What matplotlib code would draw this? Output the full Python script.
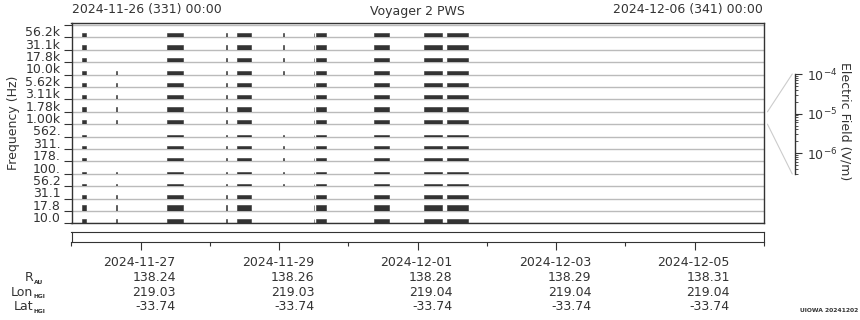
import matplotlib
matplotlib.use('Agg')
import matplotlib.pyplot as plt
import matplotlib.dates as mdates
import matplotlib.transforms as mtransforms
from matplotlib.patches import ConnectionPatch
import pandas as pd

# receiver channels, bottom to top
channels = ['10.0', '17.8', '31.1', '56.2', '100.', '178.', '311.', '562.',
            '1.00k', '1.78k', '3.11k', '5.62k', '10.0k', '17.8k', '31.1k', '56.2k']
# electric field level seen in each channel (V/m)
field = [2.4e-6, 6.0e-6, 1.5e-6, 9.5e-7, 8.0e-7, 1.5e-6, 9.5e-7, 5.8e-7,
         2.4e-6, 2.4e-6, 2.1e-6, 2.1e-6, 1.3e-6, 2.4e-6, 2.4e-6, 2.4e-6]

# data segments
seg_start = ['2024-11-26 03:35', '2024-11-26 15:25', '2024-11-27 09:05', '2024-11-28 05:30',
             '2024-11-28 09:20', '2024-11-29 01:20', '2024-11-29 11:55', '2024-11-29 12:45',
             '2024-11-30 08:50', '2024-12-01 02:10', '2024-12-01 10:05']
seg_end = ['2024-11-26 05:00', '2024-11-26 15:40', '2024-11-27 14:40', '2024-11-28 05:45',
           '2024-11-28 14:10', '2024-11-29 01:35', '2024-11-29 12:10', '2024-11-29 16:05',
           '2024-11-30 13:55', '2024-12-01 08:25', '2024-12-01 17:30']
tick1_ch = ['10.0k', '5.62k', '3.11k', '1.78k', '1.00k', '100.', '56.2', '31.1', '17.8', '10.0']
tick2_ch = ['56.2k', '31.1k', '17.8k', '10.0k', '562.', '311.', '178.', '100.', '56.2']
seg_channels = [channels, tick1_ch, channels, channels, channels, tick2_ch,
                channels, channels, channels, channels, channels]

t0, t1 = '2024-11-26 00:00', '2024-12-06 00:00'
date_ticks = ['2024-11-27', '2024-11-29', '2024-12-01', '2024-12-03', '2024-12-05']
minor_ticks = ['2024-11-26', '2024-11-28', '2024-11-30', '2024-12-02', '2024-12-04', '2024-12-06']
r_au = [138.24, 138.26, 138.28, 138.29, 138.31]
lon_hgi = [219.03, 219.03, 219.04, 219.04, 219.04]
lat_hgi = [-33.74, -33.74, -33.74, -33.74, -33.74]

e_min, e_max = 3e-7, 1e-4
dark = '#333333'
plt.rcParams['font.family'] = 'DejaVu Sans'
plt.rcParams['font.size'] = 9
plt.rcParams['text.color'] = dark
plt.rcParams['axes.edgecolor'] = dark
plt.rcParams['axes.labelcolor'] = dark
plt.rcParams['xtick.color'] = dark
plt.rcParams['ytick.color'] = dark

W, H = 860, 320
fig = plt.figure(figsize=(W / 100, H / 100), dpi=100)


def fx(x):
    return x / W


def fy(y):
    return 1 - y / H


xlim = mdates.date2num(pd.to_datetime([t0, t1]))
n = len(channels)

ax = fig.add_axes([fx(71.5), fy(223.3), 692.5 / W, 200 / H])
ax.set_xlim(xlim)
ax.set_ylim(0, n + 0.14)
for i in range(n + 1):
    ax.axhline(i, color='#bbbbbb', lw=1, zorder=0)
ax.set_xticks([])
ax.set_yticks(range(n + 1))
ax.set_yticklabels([])
ax.set_yticks([i + 0.5 for i in range(n)], minor=True)
ax.set_yticklabels(channels, minor=True)
ax.tick_params(axis='y', which='major', length=6, width=0.8)
ax.tick_params(axis='y', which='minor', length=0, pad=8)
ax.set_ylabel('Frequency (Hz)', labelpad=4)
for s in ax.spines.values():
    s.set_linewidth(1)

strips = []
for i, ch in enumerate(channels):
    sa = ax.inset_axes([0, i, 1, 1], transform=ax.get_yaxis_transform())
    sa.set_xlim(xlim)
    sa.set_yscale('log')
    sa.set_ylim(e_min, e_max)
    sa.axis('off')
    sa.patch.set_visible(False)
    for st, en, chs in zip(seg_start, seg_end, seg_channels):
        if ch not in chs:
            continue
        a, b = mdates.date2num(pd.to_datetime([st, en]))
        sa.bar(a, field[i] - e_min, width=b - a, bottom=e_min, align='edge',
               color=dark, edgecolor=dark, linewidth=0.4)
    strips.append(sa)

# empty lower panel with the time axis
ax2 = fig.add_axes([fx(71.5), fy(241.7), 692.5 / W, 10 / H])
ax2.set_xlim(xlim)
ax2.set_yticks([])
ax2.set_xticks(mdates.date2num(pd.to_datetime(date_ticks)))
ax2.set_xticks(mdates.date2num(pd.to_datetime(minor_ticks)), minor=True)
ax2.set_xticklabels([])
ax2.tick_params(axis='x', which='major', length=5.5, width=0.8)
ax2.tick_params(axis='x', which='minor', length=2.8, width=0.8)

trans = mtransforms.blended_transform_factory(ax2.transData, fig.transFigure)
trans = mtransforms.offset_copy(trans, fig=fig, x=35, y=0, units='dots')
tick_x = mdates.date2num(pd.to_datetime(date_ticks))
for k, x in enumerate(tick_x):
    fig.text(x, fy(262), date_ticks[k], transform=trans, ha='right', va='center')
    fig.text(x, fy(277.5), f'{r_au[k]:.2f}', transform=trans, ha='right', va='center')
    fig.text(x, fy(292.5), f'{lon_hgi[k]:.2f}', transform=trans, ha='right', va='center')
    fig.text(x, fy(307), f'{lat_hgi[k]:.2f}', transform=trans, ha='right', va='center')

for name, sub, y in [('R', 'AU', 277.5), ('Lon', 'HGI', 292.5), ('Lat', 'HGI', 307)]:
    fig.text(fx(33.5), fy(y), name, ha='right', va='center')
    fig.text(fx(33.5), fy(y + 4.5), sub, ha='left', va='center', fontsize=4.3,
             fontweight='bold')

# header
fig.text(fx(72), fy(9), '2024-11-26 (331) 00:00', ha='left', va='center')
fig.text(fx(417.75), fy(11), 'Voyager 2 PWS', ha='center', va='center')
fig.text(fx(763), fy(9), '2024-12-06 (341) 00:00', ha='right', va='center')
fig.text(fx(858), fy(310), 'UIOWA 20241202', ha='right', va='center', fontsize=4.3,
         fontweight='bold')

# electric field scale for one strip
ax3 = fig.add_axes([fx(795), fy(174), 0.5 / W, 100 / H])
ax3.set_yscale('log')
ax3.set_ylim(e_min, e_max)
ax3.set_xticks([])
for k in ['top', 'bottom', 'left']:
    ax3.spines[k].set_visible(False)
ax3.spines['right'].set_linewidth(1)
ax3.yaxis.tick_right()
ax3.set_yticks([1e-6, 1e-5, 1e-4])
ax3.tick_params(axis='y', which='major', length=5, width=0.8, pad=3)
ax3.tick_params(axis='y', which='minor', length=2.5, width=0.6)
fig.text(fx(845), fy(121.5), 'Electric Field (V/m)', rotation=270, ha='center', va='center')

ref = strips[channels.index('1.00k')]
for ya, yb in [(1, 1), (0, 0)]:
    con = ConnectionPatch(xyA=(1.005, ya), coordsA=ref.transAxes,
                          xyB=(0.5 - 6, yb), coordsB=ax3.transAxes,
                          color='#cccccc', lw=0.8)
    fig.add_artist(con)

fig.savefig('out.png', dpi=100)
